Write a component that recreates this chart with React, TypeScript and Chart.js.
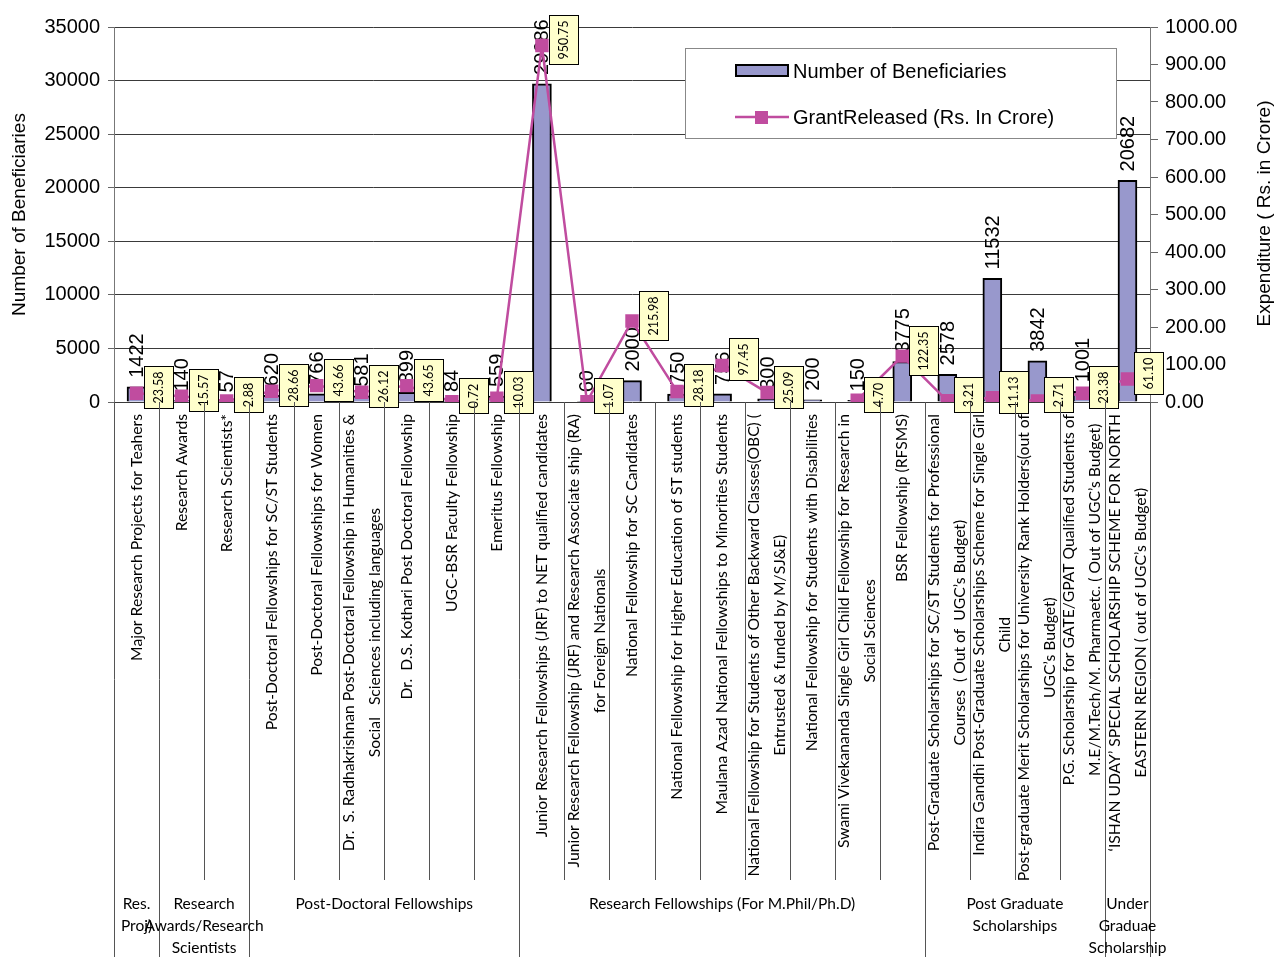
import React, { useEffect, useRef } from 'react';
import { Chart, registerables } from 'chart.js';

Chart.register(...registerables);

const categories: string[][] = [
  ['Major Research Projects for Teahers'],
  ['Research Awards'],
  ['Research Scientists*'],
  ['Post-Doctoral Fellowships for SC/ST Students'],
  ['Post-Doctoral Fellowships for Women'],
  ['Dr.  S. Radhakrishnan Post-Doctoral Fellowship in Humanities &', 'Social   Sciences including languages'],
  ['Dr.  D.S. Kothari Post Doctoral Fellowship'],
  ['UGC-BSR Faculty Fellowship'],
  ['Emeritus Fellowship'],
  ['Junior Research Fellowships (JRF) to NET qualified candidates'],
  ['Junior Research Fellowship (JRF) and Research Associate ship (RA)', 'for Foreign Nationals'],
  ['National Fellowship for SC Candidates'],
  ['National Fellowship for Higher Education of ST students'],
  ['Maulana Azad National Fellowships to Minorities Students'],
  ['National Fellowship for Students of Other Backward Classes(OBC) (', 'Entrusted & funded by M/SJ&E)'],
  ['National Fellowship for Students with Disabilities'],
  ['Swami Vivekananda Single Girl Child Fellowship for Research in', 'Social Sciences'],
  ['BSR Fellowship (RFSMS)'],
  ['Post-Graduate Scholarships for SC/ST Students for Professional', 'Courses  ( Out of  UGC\u2019s Budget)'],
  ['Indira Gandhi Post-Graduate Scholarships Scheme for Single Girl', 'Child'],
  ['Post-graduate Merit Scholarships for University Rank Holders(out of', 'UGC\u2019s Budget)'],
  ['P.G. Scholarship for GATE/GPAT Qualified Students of', 'M.E/M.Tech/M. Pharmaetc. ( Out of UGC\u2019s Budget)'],
  ['\u2018ISHAN UDAY\u2019 SPECIAL SCHOLARSHIP SCHEME FOR NORTH', 'EASTERN REGION ( out of UGC\u2019s Budget)'],
];

const beneficiaries: number[] = [
  1422, 140, 57, 620, 766, 581, 899, 84, 559,
  29686, 60, 2000, 750, 756, 300, 200, 150, 3775,
  2578, 11532, 3842, 1001, 20682,
];

const grantReleased: (number | null)[] = [
  23.58, 15.57, 2.88, 28.66, 43.66, 26.12, 43.65, 0.72, 10.03,
  950.75, 1.07, 215.98, 28.18, 97.45, 25.09, null, 4.70, 122.35,
  3.21, 11.13, 2.71, 23.38, 61.10,
];

const groupLabels: string[][] = [
  ['Res.', 'Proj)'],
  ['Research', 'Awards/Research', 'Scientists'],
  ['Post-Doctoral Fellowships'],
  ['Research Fellowships (For M.Phil/Ph.D)'],
  ['Post Graduate', 'Scholarships'],
  ['Under', 'Graduae', 'Scholarship'],
];
const groupSizes: number[] = [1, 2, 6, 9, 4, 1];

const leftTicks = { min: 0, max: 35000, step: 5000 };
const rightTicks = { min: 0, max: 1000, step: 100 };

const seriesNames = ['Number of Beneficiaries', 'GrantReleased (Rs. In Crore)'];
const axisTitles = ['Number of Beneficiaries', 'Expenditure ( Rs. in Crore)'];

const BAR_COLOR = '#9898cc';
const LINE_COLOR = '#c04c9f';
const ARIAL = '"Liberation Sans", Arial, sans-serif';
const CAL = 'Lato, Carlito, sans-serif';

const overlayPlugin = {
  id: 'overlay',
  afterDatasetDraw(chart: any, args: any) {
    if (args.index !== 0) return;
    const ctx = chart.ctx;
    const meta = chart.getDatasetMeta(0);
    ctx.save();
    ctx.fillStyle = '#000';
    ctx.font = `20px ${ARIAL}`;
    ctx.textAlign = 'left';
    ctx.textBaseline = 'middle';
    meta.data.forEach((el: any, i: number) => {
      ctx.save();
      ctx.translate(el.x + 1, el.y - 9);
      ctx.rotate(-Math.PI / 2);
      ctx.fillText(String(beneficiaries[i]), 0, 0);
      ctx.restore();
    });
    ctx.restore();
  },
  afterDatasetsDraw(chart: any) {
    const ctx = chart.ctx;
    const meta = chart.getDatasetMeta(1);
    ctx.save();
    ctx.font = `12.5px ${CAL}`;
    meta.data.forEach((el: any, i: number) => {
      const v = grantReleased[i];
      if (v === null || v === undefined) return;
      const txt = v.toFixed(2);
      const tw = ctx.measureText(txt).width;
      const w = 29;
      const h = Math.round(tw + 10);
      const left = Math.round(el.x + 7) + 0.5;
      const top = Math.round(el.y - 6 - h / 2) + 0.5;
      ctx.fillStyle = '#ffffcc';
      ctx.fillRect(left, top, w, h);
      ctx.strokeStyle = '#000';
      ctx.lineWidth = 1;
      ctx.strokeRect(left, top, w, h);
      ctx.save();
      ctx.translate(left + w / 2, top + h / 2);
      ctx.rotate(-Math.PI / 2);
      ctx.fillStyle = '#000';
      ctx.textAlign = 'center';
      ctx.textBaseline = 'middle';
      ctx.fillText(txt, 0, 0);
      ctx.restore();
    });
    ctx.restore();
  },
  afterDraw(chart: any) {
    const ctx = chart.ctx;
    const area = chart.chartArea;
    const xs = chart.scales.x;
    const n = categories.length;
    const cw = (area.right - area.left) / n;
    const H = chart.height;

    // category separators
    const groupBounds = new Set<number>();
    let acc = 0;
    groupBounds.add(0);
    groupSizes.forEach((s) => { acc += s; groupBounds.add(acc); });
    ctx.save();
    ctx.strokeStyle = '#555';
    ctx.lineWidth = 1;
    for (let b = 0; b <= n; b++) {
      const x = b < n ? Math.round(xs.getPixelForValue(b) - cw / 2) + 0.5 : Math.round(xs.getPixelForValue(n - 1) + cw / 2) + 0.5;
      const yEnd = groupBounds.has(b) ? H : 880;
      ctx.beginPath();
      ctx.moveTo(x, area.bottom);
      ctx.lineTo(x, yEnd);
      ctx.stroke();
    }
    ctx.restore();

    // category labels
    ctx.save();
    ctx.beginPath();
    ctx.rect(0, area.bottom + 1, chart.width, 882 - area.bottom);
    ctx.clip();
    ctx.font = `15.7px ${CAL}`;
    ctx.fillStyle = '#000';
    ctx.textAlign = 'center';
    ctx.textBaseline = 'middle';
    const y0 = area.bottom + 12;
    categories.forEach((lines, i) => {
      const cx = xs.getPixelForValue(i);
      const maxW = Math.max(...lines.map((l) => ctx.measureText(l).width));
      const cy = y0 + maxW / 2;
      lines.forEach((line, j) => {
        const lx = cx + (j - (lines.length - 1) / 2) * 26;
        ctx.save();
        ctx.translate(lx, cy);
        ctx.rotate(-Math.PI / 2);
        ctx.fillText(line, 0, 0);
        ctx.restore();
      });
    });
    ctx.restore();

    // group labels
    ctx.save();
    ctx.font = `15.5px ${CAL}`;
    ctx.fillStyle = '#000';
    ctx.textAlign = 'center';
    ctx.textBaseline = 'middle';
    let start = 0;
    groupLabels.forEach((lines, g) => {
      const end = start + groupSizes[g] - 1;
      const gx = (xs.getPixelForValue(start) + xs.getPixelForValue(end)) / 2;
      lines.forEach((line, j) => {
        ctx.fillText(line, gx, 904 + j * 22);
      });
      start = end + 1;
    });
    ctx.restore();

    // axis titles
    ctx.save();
    ctx.font = `19px ${ARIAL}`;
    ctx.fillStyle = '#000';
    ctx.textAlign = 'center';
    ctx.textBaseline = 'middle';
    const midY = (area.top + area.bottom) / 2;
    ctx.save();
    ctx.translate(20, midY);
    ctx.rotate(-Math.PI / 2);
    ctx.fillText(axisTitles[0], 0, 0);
    ctx.restore();
    ctx.save();
    ctx.translate(1265, midY - 1);
    ctx.rotate(-Math.PI / 2);
    ctx.fillText(axisTitles[1], 0, 0);
    ctx.restore();
    ctx.restore();

    // legend
    ctx.save();
    ctx.fillStyle = '#fff';
    ctx.fillRect(685.5, 48.5, 431, 90);
    ctx.strokeStyle = '#888';
    ctx.lineWidth = 1;
    ctx.strokeRect(685.5, 48.5, 431, 90);
    ctx.fillStyle = BAR_COLOR;
    ctx.fillRect(736, 65, 52, 11);
    ctx.strokeStyle = '#000';
    ctx.lineWidth = 2;
    ctx.strokeRect(736, 65, 52, 11);
    ctx.strokeStyle = LINE_COLOR;
    ctx.lineWidth = 2.5;
    ctx.beginPath();
    ctx.moveTo(735, 117);
    ctx.lineTo(789, 117);
    ctx.stroke();
    ctx.fillStyle = LINE_COLOR;
    ctx.fillRect(755, 111, 13, 13);
    ctx.fillStyle = '#000';
    ctx.font = `20px ${ARIAL}`;
    ctx.textAlign = 'left';
    ctx.textBaseline = 'middle';
    ctx.fillText(seriesNames[0], 793, 72);
    ctx.fillText(seriesNames[1], 793, 118);
    ctx.restore();
  },
};

export default function App() {
  const ref = useRef<HTMLCanvasElement>(null);
  useEffect(() => {
    const canvas = ref.current;
    if (!canvas) return;
    const chart = new Chart(canvas, {
      type: 'bar',
      data: {
        labels: categories.map((c) => c.join(' ')),
        datasets: [
          {
            type: 'bar',
            label: seriesNames[0],
            data: beneficiaries,
            yAxisID: 'y',
            backgroundColor: BAR_COLOR,
            borderColor: '#000',
            borderWidth: 2,
            barThickness: 19,
            order: 1,
          } as any,
          {
            type: 'line',
            label: seriesNames[1],
            data: grantReleased,
            yAxisID: 'y1',
            borderColor: LINE_COLOR,
            borderWidth: 2.5,
            backgroundColor: LINE_COLOR,
            pointStyle: 'rect',
            pointRadius: 9.5,
            pointBorderWidth: 0,
            pointBackgroundColor: LINE_COLOR,
            spanGaps: false,
            tension: 0,
            order: 0,
          } as any,
        ],
      },
      options: {
        animation: false,
        responsive: false,
        devicePixelRatio: 1,
        layout: { padding: { top: 27, bottom: 555, left: 0, right: 0 } },
        plugins: { legend: { display: false }, tooltip: { enabled: false } },
        scales: {
          x: { display: false, offset: true },
          y: {
            position: 'left',
            min: leftTicks.min,
            max: leftTicks.max,
            ticks: {
              stepSize: leftTicks.step,
              color: '#000',
              font: { size: 20, family: ARIAL },
              padding: 8,
              callback: (v: any) => String(v),
            },
            grid: { color: '#3a3a3a', tickColor: '#666', tickLength: 6 },
            border: { display: true, color: '#777', width: 1 },
            afterFit: (s: any) => { s.width = 114; },
          },
          y1: {
            position: 'right',
            min: rightTicks.min,
            max: rightTicks.max,
            ticks: {
              stepSize: rightTicks.step,
              color: '#000',
              font: { size: 20, family: ARIAL },
              padding: 7,
              callback: (v: any) => Number(v).toFixed(2),
            },
            grid: { drawOnChartArea: false, tickColor: '#666', tickLength: 8 },
            border: { display: true, color: '#777', width: 1 },
            afterFit: (s: any) => { s.width = 127; },
          },
        },
      } as any,
      plugins: [overlayPlugin],
    });
    return () => chart.destroy();
  }, []);
  return (
    <div style={{ position: 'absolute', left: 0, top: 0, width: 1277, height: 957, background: '#fff' }}>
      <canvas ref={ref} width={1277} height={957} style={{ display: 'block', width: 1277, height: 957 }} />
    </div>
  );
}
